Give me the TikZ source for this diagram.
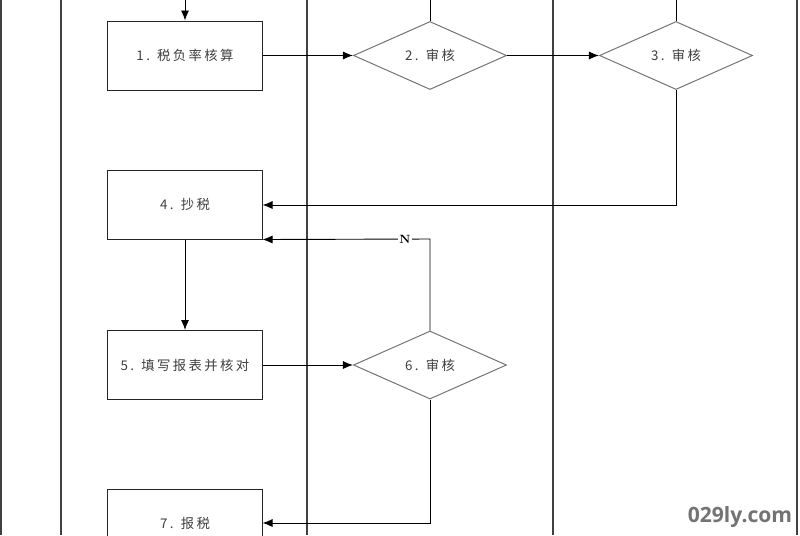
\documentclass[tikz,border=0pt]{standalone}
\usepackage{fontspec}
\newfontfamily\cjk[LetterSpace=18]{Noto Sans CJK SC}
\newfontfamily\markfont{Open Sans}
\usetikzlibrary{shapes.geometric,arrows.meta}
\tikzset{
	procbox/.style={draw=black!85,line width=.7pt,rectangle,minimum width=3.85cm,minimum height=1.725cm,inner sep=0pt,font=\cjk\fontsize{9.5}{11}\selectfont,text=black!75},
	checkbox/.style={draw=black!55,line width=.7pt,diamond,minimum width=3.825cm,minimum height=1.7cm,inner sep=0pt,font=\cjk\fontsize{9.5}{11}\selectfont,text=black!75},
	lane/.style={draw=black!75,line width=1pt},
	flow/.style={draw=black,line width=.65pt,-{Latex[length=2.5mm,width=2mm]}},
	plain/.style={draw=black,line width=.65pt}
}
\begin{document}
\begin{tikzpicture}[x=0.025cm,y=-0.025cm]
	\useasboundingbox (0,0) rectangle (800,535);
	\clip (0,0) rectangle (800,535);
	\fill[white] (0,0) rectangle (800,535);
	% swim lanes
	\foreach \x in {1,61,307,553,797}{
		\draw[lane] (\x,0)--(\x,535);
	}
	% steps
	\node[procbox] (s1) at (185,55.5) {1. 税负率核算};
	\node[checkbox] (s2) at (430,55.5) {2. 审核};
	\node[checkbox] (s3) at (676,55.5) {3. 审核};
	\node[procbox] (s4) at (185,204.5) {4. 抄税};
	\node[procbox] (s5) at (185,365) {5. 填写报表并核对};
	\node[checkbox] (s6) at (430,365) {6. 审核};
	\node[procbox] (s7) at (185,523.5) {7. 报税};
	\path (185,0) coordinate (in1)
	(430,0) coordinate (up2)
	(676,0) coordinate (up3)
	(676,205) coordinate (c3)
	(430,239) coordinate (c6a)
	(430,523) coordinate (c6b);
	% connectors
	\draw[flow] (in1)--(s1.north);
	\draw[plain] (s2.north)--(up2);
	\draw[plain] (s3.north)--(up3);
	\draw[flow] (s1.east)--(s2.west);
	\draw[flow] (s2.east)--(s3.west);
	\draw[flow] (s3.south)--(c3)--(c3-|s4.east);
	\draw[flow] (s4.south)--(s5.north);
	\draw[flow] (s5.east)--(s6.west);
	\draw[flow] (s6.north)--(c6a)--(s4.south east);
	\node[fill=white,inner sep=1pt,font=\bfseries\fontsize{8.5}{9}\selectfont] (no) at (405,239) {N};
	\draw[flow] (s6.south)--(c6b)--(c6b-|s7.east);
	% watermark
	\node[font=\markfont\bfseries\fontsize{15}{16}\selectfont,text=black!55] (wm) at (740,517) {029ly.com};
\end{tikzpicture}
\end{document}
